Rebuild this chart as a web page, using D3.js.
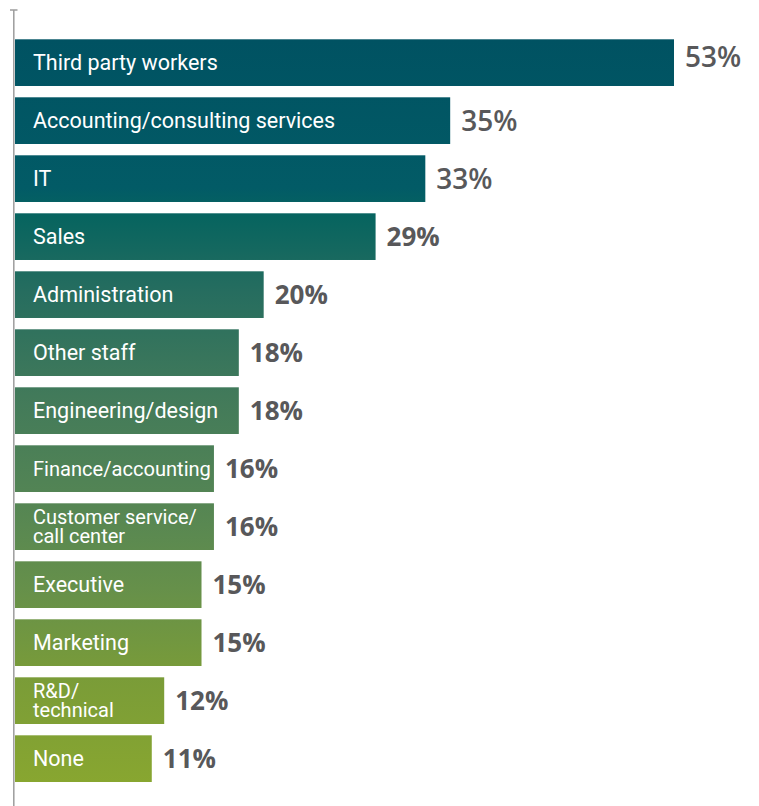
<!DOCTYPE html>
<html>
<head>
<meta charset="utf-8">
<script src="https://cdn.jsdelivr.net/npm/d3@7"></script>
<style>
  html, body { margin: 0; padding: 0; background: #ffffff; }
  svg { display: block; }
</style>
</head>
<body>
<div id="chart"></div>
<script>
// Share of respondents by function
const categories = [
  ["Third party workers"],
  ["Accounting/consulting services"],
  ["IT"],
  ["Sales"],
  ["Administration"],
  ["Other staff"],
  ["Engineering/design"],
  ["Finance/accounting"],
  ["Customer service/", "call center"],
  ["Executive"],
  ["Marketing"],
  ["R&D/", "technical"],
  ["None"]
];
const values = [53, 35, 33, 29, 20, 18, 18, 16, 16, 15, 15, 12, 11];
const valueLabels = values.map(v => v + "%");

const width = 759, height = 806;
const x0 = 15, xMax = 674;
const barTop = 39.3, barBottom = 782;

const svg = d3.select("#chart").append("svg")
  .attr("width", width).attr("height", height);

const rows = categories.map((c, i) => ({ id: i, lines: c, value: values[i], label: valueLabels[i] }));

const x = d3.scaleLinear().domain([0, 53]).range([x0, xMax]);
const y = d3.scaleBand()
  .domain(rows.map(d => d.id))
  .range([barTop, barBottom])
  .paddingInner(0.195)
  .paddingOuter(0);

// Vertical teal-to-olive gradient running down the whole stack of bars
const defs = svg.append("defs");
const grad = defs.append("linearGradient")
  .attr("id", "barGrad")
  .attr("gradientUnits", "userSpaceOnUse")
  .attr("x1", 0).attr("x2", 0)
  .attr("y1", barTop).attr("y2", barBottom);
[
  [0.00, "#005262"],
  [0.20, "#025b66"],
  [0.24, "#07645f"],
  [0.34, "#266d5f"],
  [0.48, "#427a5a"],
  [0.62, "#548554"],
  [0.74, "#66904a"],
  [0.86, "#7a9c38"],
  [1.00, "#88a630"]
].forEach(([o, c]) => grad.append("stop").attr("offset", o).attr("stop-color", c));

// Bars
svg.append("g").selectAll("rect")
  .data(rows).join("rect")
  .attr("x", x(0))
  .attr("y", d => y(d.id))
  .attr("width", d => x(d.value) - x(0))
  .attr("height", y.bandwidth())
  .attr("fill", "url(#barGrad)");

// Category labels inside the bars; single-line labels shrink to fit a short bar
const lineH = 19;
const padL = 18;
svg.append("g").selectAll("text")
  .data(rows).join("text")
  .attr("x", x(0) + padL)
  .attr("y", d => y(d.id) + y.bandwidth() / 2)
  .attr("fill", "#ffffff")
  .style("font-family", "Roboto, 'Noto Sans', sans-serif")
  .style("font-size", d => d.lines.length > 1 ? "20px" : "21.5px")
  .each(function(d) {
    const t = d3.select(this);
    const n = d.lines.length;
    d.lines.forEach((ln, k) => {
      t.append("tspan")
        .attr("x", x(0) + padL)
        .attr("dy", k === 0 ? ((-(n - 1) / 2) * lineH + 7) : lineH)
        .text(ln);
    });
    if (n === 1) {
      const room = x(d.value) - x(0) - padL - 3;
      const len = this.getComputedTextLength();
      if (len > room) {
        t.style("font-size", (21.5 * room / len).toFixed(2) + "px");
      }
    }
  });

// Value labels at the bar ends
svg.append("g").selectAll("text")
  .data(rows).join("text")
  .attr("x", d => x(d.value) + 11)
  .attr("y", d => y(d.id) + y.bandwidth() / 2 + (d.value >= 30 ? (d.value > 50 ? 4 : 10) : 9))
  .attr("fill", "#58585a")
  .style("font-family", "'Open Sans', 'Noto Sans', sans-serif")
  .style("font-weight", d => d.value >= 30 ? 600 : 700)
  .style("font-size", d => d.value >= 30 ? "28px" : "26px")
  .text(d => d.label);

// Left axis line with a small cap at the top
const axis = svg.append("g").attr("stroke", "#9d9d9d").attr("stroke-width", 1.5);
axis.append("line").attr("x1", 13.8).attr("x2", 13.8).attr("y1", 10).attr("y2", height);
axis.append("line").attr("x1", 10).attr("x2", 17.5).attr("y1", 10).attr("y2", 10);
</script>
</body>
</html>
